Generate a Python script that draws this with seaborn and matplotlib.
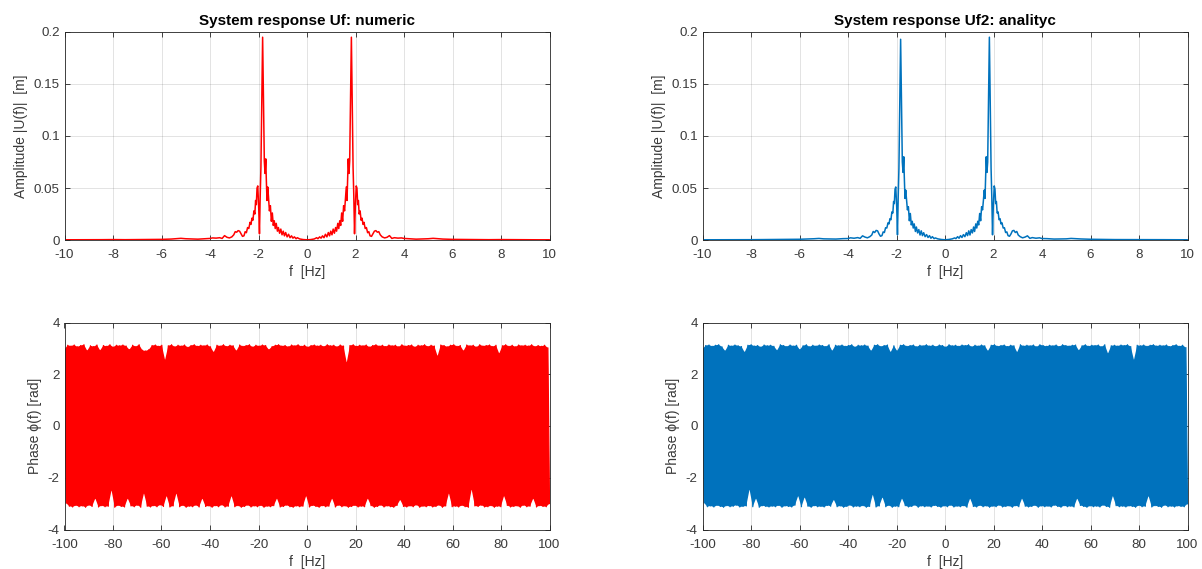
import numpy as np
import matplotlib
matplotlib.use("Agg")
import matplotlib.pyplot as plt
import seaborn as sns
from matplotlib.ticker import FormatStrFormatter

# ---------------- amplitude spectra |U(f)| ----------------
# positive-frequency sampling grid; the negative side uses the same grid mirrored
freq_pos = [
    0.15, 0.30, 0.40, 0.45, 0.52, 0.58, 0.64, 0.70, 0.76, 0.82,
    0.88, 0.93, 0.98, 1.03, 1.08, 1.13, 1.18, 1.22, 1.27, 1.31,
    1.35, 1.39, 1.43, 1.47, 1.51, 1.55, 1.59, 1.62, 1.65, 1.68,
    1.70, 1.73, 1.76, 1.79, 1.83, 1.87, 1.90, 1.93, 1.96, 1.99,
    2.03, 2.06, 2.09, 2.12, 2.15, 2.19, 2.23, 2.27, 2.31, 2.35,
    2.40, 2.45, 2.50, 2.55, 2.60, 2.66, 2.72, 2.78, 2.84, 2.90,
    2.96, 3.02, 3.10, 3.20, 3.30, 3.40, 3.50, 3.60, 3.75, 3.90,
    4.00, 4.20, 4.50, 4.80, 5.00, 5.20, 5.40, 5.60, 6.00, 6.50,
    7.00, 7.50, 8.00, 8.50, 9.00, 9.50, 10.0,
]

# numeric solution: values for f < 0 (ascending f), at f = 0, and for f > 0
amp_numeric_neg = [
    0.0002, 0.0002, 0.0003, 0.0003, 0.0004, 0.0003, 0.0004,
    0.0005, 0.0006, 0.0009, 0.0013, 0.0016, 0.0012, 0.0010, 0.0008, 0.0012, 0.0015,
    0.0020, 0.0018, 0.0022, 0.0015, 0.0042, 0.0026, 0.0020, 0.0030, 0.0050, 0.0080,
    0.0075, 0.0090, 0.0085, 0.0060, 0.0035, 0.0040, 0.0080, 0.0070, 0.0120, 0.0110,
    0.0170, 0.0150, 0.0210, 0.0190, 0.0280, 0.0250, 0.0380, 0.0340, 0.0500, 0.0520,
    0.0300, 0.0060, 0.0420, 0.0700, 0.1250, 0.1950, 0.1250, 0.0760, 0.0640, 0.0780,
    0.0600, 0.0380, 0.0510, 0.0420, 0.0280, 0.0330, 0.0180, 0.0260, 0.0140, 0.0185,
    0.0110, 0.0160, 0.0085, 0.0120, 0.0065, 0.0105, 0.0050, 0.0085, 0.0040, 0.0072,
    0.0030, 0.0055, 0.0022, 0.0040, 0.0018, 0.0030, 0.0012, 0.0022, 0.0010, 0.0004,
]
amp_numeric_zero = 0.0002
amp_numeric_pos = [
    0.0004, 0.0010, 0.0022, 0.0012, 0.0030, 0.0018, 0.0040, 0.0022, 0.0055, 0.0030,
    0.0072, 0.0040, 0.0085, 0.0050, 0.0105, 0.0065, 0.0120, 0.0085, 0.0160, 0.0110,
    0.0185, 0.0140, 0.0260, 0.0180, 0.0330, 0.0280, 0.0420, 0.0510, 0.0380, 0.0600,
    0.0780, 0.0640, 0.0760, 0.1250, 0.1950, 0.1250, 0.0700, 0.0420, 0.0060, 0.0300,
    0.0520, 0.0500, 0.0340, 0.0380, 0.0250, 0.0280, 0.0190, 0.0210, 0.0150, 0.0170,
    0.0110, 0.0120, 0.0070, 0.0080, 0.0040, 0.0035, 0.0060, 0.0085, 0.0090, 0.0075,
    0.0080, 0.0050, 0.0030, 0.0020, 0.0026, 0.0042, 0.0015, 0.0022, 0.0018, 0.0020,
    0.0015, 0.0012, 0.0008, 0.0010, 0.0012, 0.0016, 0.0013, 0.0009, 0.0006, 0.0005,
    0.0004, 0.0003, 0.0004, 0.0003, 0.0003, 0.0002, 0.0002,
]

# analytic solution
amp_analytic_neg = [
    0.0002, 0.0002, 0.0003, 0.0003, 0.0003, 0.0004, 0.0004,
    0.0005, 0.0007, 0.0010, 0.0012, 0.0015, 0.0011, 0.0010, 0.0009, 0.0013, 0.0014,
    0.0021, 0.0017, 0.0023, 0.0016, 0.0040, 0.0028, 0.0021, 0.0032, 0.0048, 0.0082,
    0.0072, 0.0092, 0.0088, 0.0058, 0.0036, 0.0042, 0.0078, 0.0072, 0.0118, 0.0115,
    0.0165, 0.0155, 0.0205, 0.0195, 0.0270, 0.0260, 0.0370, 0.0350, 0.0490, 0.0510,
    0.0310, 0.0050, 0.0410, 0.0690, 0.1230, 0.1930, 0.1270, 0.0750, 0.0650, 0.0800,
    0.0620, 0.0400, 0.0480, 0.0400, 0.0290, 0.0320, 0.0185, 0.0255, 0.0145, 0.0180,
    0.0115, 0.0155, 0.0082, 0.0125, 0.0068, 0.0100, 0.0048, 0.0088, 0.0042, 0.0070,
    0.0032, 0.0052, 0.0024, 0.0042, 0.0017, 0.0032, 0.0013, 0.0020, 0.0011, 0.0005,
]
amp_analytic_zero = 0.0002
amp_analytic_pos = [
    0.0005, 0.0011, 0.0020, 0.0013, 0.0032, 0.0017, 0.0042, 0.0024, 0.0052, 0.0032,
    0.0070, 0.0042, 0.0088, 0.0048, 0.0100, 0.0068, 0.0125, 0.0082, 0.0155, 0.0115,
    0.0180, 0.0145, 0.0255, 0.0185, 0.0320, 0.0290, 0.0400, 0.0480, 0.0400, 0.0620,
    0.0800, 0.0650, 0.0750, 0.1270, 0.1950, 0.1230, 0.0690, 0.0410, 0.0050, 0.0310,
    0.0520, 0.0490, 0.0350, 0.0370, 0.0260, 0.0270, 0.0195, 0.0205, 0.0155, 0.0165,
    0.0115, 0.0118, 0.0072, 0.0078, 0.0042, 0.0036, 0.0058, 0.0088, 0.0092, 0.0072,
    0.0082, 0.0048, 0.0032, 0.0021, 0.0028, 0.0040, 0.0016, 0.0023, 0.0017, 0.0021,
    0.0014, 0.0013, 0.0009, 0.0010, 0.0011, 0.0015, 0.0012, 0.0010, 0.0007, 0.0005,
    0.0004, 0.0004, 0.0003, 0.0003, 0.0003, 0.0002, 0.0002,
]

# ---------------- phase spectra phi(f): successive positive / negative extremes ----------------
phase_numeric_hi = [
    2.96, 3.12, 3.09, 3.13, 3.06, 3.11, 3.14, 2.91, 3.10, 3.07,
    3.13, 2.92, 3.11, 3.08, 3.14, 3.05, 3.12, 3.10, 3.13, 3.09,
    2.95, 3.12, 3.07, 3.14, 2.93, 2.90, 2.95, 3.11, 3.13, 3.08,
    3.12, 2.55, 3.10, 3.14, 3.06, 3.12, 3.09, 3.13, 3.04, 3.11,
    3.14, 3.08, 3.12, 3.10, 3.13, 3.06, 2.85, 3.12, 3.09, 3.14,
    3.07, 3.12, 3.10, 2.90, 3.13, 3.08, 3.11, 3.14, 3.05, 3.12,
    3.09, 3.13, 3.11, 2.95, 3.07, 3.12, 3.14, 3.09, 3.11, 3.06,
    3.13, 3.10, 3.14, 3.08, 3.12, 3.05, 3.11, 3.13, 3.09, 3.12,
    3.07, 3.14, 3.10, 3.12, 3.06, 3.13, 3.09, 2.45, 3.11, 3.14,
    3.08, 3.12, 3.10, 3.13, 3.05, 3.11, 3.14, 3.09, 3.12, 3.07,
    3.13, 3.10, 3.12, 3.06, 3.14, 3.09, 3.11, 3.13, 3.05, 3.12,
    3.10, 3.14, 3.07, 3.12, 3.09, 2.70, 3.13, 3.11, 3.06, 3.12,
    3.14, 3.08, 3.11, 2.90, 3.13, 3.10, 3.12, 3.05, 3.14, 3.09,
    3.11, 3.13, 3.07, 3.12, 2.80, 3.10, 3.14, 3.08, 3.12, 3.06,
    3.13, 3.10, 3.12, 3.09, 3.14, 3.07, 3.11, 3.08, 3.12, 3.02,
]
phase_numeric_lo = [
    -2.98, -3.10, -3.13, -3.07, -3.12, -3.09, -3.14, -3.06, -3.11, -2.80,
    -3.13, -3.08, -3.12, -3.10, -2.48, -3.14, -3.07, -3.11, -3.13, -2.80,
    -3.09, -3.12, -3.06, -3.14, -2.60, -3.10, -3.13, -3.08, -3.12, -3.05,
    -3.11, -2.70, -3.13, -3.09, -2.60, -3.12, -3.07, -3.14, -3.10, -3.12,
    -3.06, -3.13, -2.80, -3.11, -3.09, -3.14, -3.08, -3.12, -3.05, -3.13,
    -3.10, -2.70, -3.12, -3.08, -3.14, -3.11, -3.06, -3.13, -3.09, -3.12,
    -3.07, -3.14, -3.10, -3.12, -3.08, -2.80, -3.13, -3.11, -3.06, -3.12,
    -3.14, -3.09, -3.12, -3.10, -2.70, -3.13, -3.07, -3.11, -3.14, -3.08,
    -3.12, -3.10, -2.80, -3.13, -3.06, -3.12, -3.09, -3.14, -3.11, -3.07,
    -3.13, -3.10, -3.12, -2.80, -3.08, -3.14, -3.11, -3.06, -3.13, -3.09,
    -3.12, -3.14, -3.07, -2.85, -3.11, -3.13, -3.09, -3.12, -3.05, -3.14,
    -3.10, -3.12, -3.08, -3.13, -3.11, -3.06, -3.14, -3.09, -2.60, -3.12,
    -3.10, -3.13, -3.07, -3.12, -3.14, -2.45, -3.09, -3.11, -3.06, -3.13,
    -3.12, -3.08, -3.14, -3.10, -3.12, -2.70, -3.07, -3.13, -3.11, -3.09,
    -3.14, -3.06, -3.12, -3.10, -2.80, -3.13, -3.08, -3.11, -3.12, -3.00,
]
phase_analytic_hi = [
    2.97, 3.11, 3.13, 3.08, 3.12, 3.14, 3.06, 2.90, 3.12, 3.09,
    3.13, 3.10, 3.07, 2.85, 3.12, 3.14, 3.09, 3.11, 3.05, 3.13,
    3.10, 3.12, 3.08, 2.92, 3.14, 3.11, 3.07, 3.13, 3.09, 3.12,
    2.95, 3.10, 3.14, 3.06, 3.12, 3.09, 3.13, 3.11, 3.07, 3.14,
    2.90, 3.12, 3.10, 3.13, 3.08, 3.11, 3.14, 3.05, 3.12, 3.10,
    3.13, 3.09, 2.90, 3.12, 3.14, 3.07, 3.11, 3.13, 2.85, 3.10,
    2.90, 3.12, 3.14, 3.08, 3.11, 3.13, 3.06, 3.12, 3.10, 3.14,
    3.09, 3.12, 3.07, 3.13, 3.11, 3.05, 3.14, 3.10, 3.12, 3.08,
    3.13, 3.11, 3.14, 3.06, 3.12, 3.09, 3.13, 3.10, 2.90, 3.12,
    3.14, 3.08, 3.11, 3.13, 3.07, 3.12, 3.10, 2.85, 3.14, 3.09,
    3.12, 3.10, 3.13, 3.06, 3.14, 3.11, 3.08, 3.12, 3.10, 3.13,
    3.07, 3.14, 3.11, 3.09, 3.12, 3.13, 2.92, 3.10, 3.14, 3.08,
    3.12, 3.11, 3.13, 3.06, 3.14, 2.80, 3.10, 3.12, 3.09, 3.13,
    3.11, 3.14, 3.07, 2.55, 3.12, 3.10, 3.13, 3.08, 3.12, 3.14,
    3.09, 3.12, 3.10, 3.13, 3.07, 3.11, 3.14, 3.08, 3.12, 3.03,
]
phase_analytic_lo = [
    -2.97, -3.12, -3.09, -3.13, -3.07, -3.11, -3.14, -3.08, -3.12, -3.10,
    -3.06, -3.13, -3.11, -3.09, -2.45, -3.12, -2.80, -3.14, -3.08, -3.11,
    -3.13, -3.10, -3.12, -3.07, -3.14, -3.09, -3.11, -3.13, -3.06, -2.70,
    -3.12, -2.75, -3.10, -3.14, -3.08, -3.12, -3.11, -3.13, -3.07, -3.10,
    -2.85, -3.12, -3.09, -3.14, -3.11, -3.06, -3.13, -3.10, -3.12, -3.08,
    -3.14, -3.11, -2.65, -3.13, -3.09, -2.75, -3.12, -3.07, -3.14, -3.10,
    -3.12, -2.80, -3.08, -3.13, -3.11, -3.06, -3.14, -3.09, -3.12, -3.10,
    -3.13, -3.07, -3.11, -3.14, -3.09, -3.12, -3.06, -3.13, -3.10, -3.12,
    -3.08, -3.14, -2.80, -3.11, -3.13, -3.07, -3.12, -3.09, -3.14, -3.10,
    -3.12, -3.06, -3.13, -3.11, -3.09, -3.14, -3.08, -3.12, -2.80, -3.10,
    -3.13, -3.11, -3.07, -3.14, -3.09, -3.12, -3.10, -3.13, -3.06, -3.11,
    -3.14, -3.08, -3.12, -3.10, -3.13, -2.80, -3.07, -3.11, -3.14, -3.09,
    -3.12, -3.10, -3.13, -3.06, -3.11, -3.14, -2.70, -3.08, -3.12, -3.10,
    -3.13, -3.09, -3.11, -3.14, -3.07, -3.12, -3.10, -2.70, -3.13, -3.08,
    -3.11, -3.14, -3.06, -3.12, -3.10, -3.13, -3.09, -3.11, -3.12, -3.01,
]

amp_xticks = [-10, -8, -6, -4, -2, 0, 2, 4, 6, 8, 10]
amp_yticks = [0, 0.05, 0.1, 0.15, 0.2]
phase_xticks = [-100, -80, -60, -40, -20, 0, 20, 40, 60, 80, 100]
phase_yticks = [-4, -2, 0, 2, 4]

titles = ["System response Uf: numeric", "System response Uf2: analityc"]
amp_label = "Amplitude |U(f)|  [m]"
phase_label = "Phase ϕ(f) [rad]"
freq_label = "f  [Hz]"

RED = "#FF0000"
BLUE = "#0072BD"
AX_COLOR = "#262626"
LABEL_COLOR = "#3a3a3a"


def full_spectrum(neg, zero, pos):
    f = np.r_[-np.asarray(freq_pos)[::-1], 0.0, freq_pos]
    a = np.r_[neg, zero, pos]
    return f, a


sns.set_theme(style="white")
plt.rcParams["font.family"] = ["Liberation Sans", "DejaVu Sans"]
plt.rcParams["axes.unicode_minus"] = False

fig = plt.figure(figsize=(12.02, 5.69), dpi=100)

ax_w = 485 / 1202
cols_x = [64.5 / 1202, 702.5 / 1202]
top_y, top_h = 1 - 240 / 569, 208 / 569
bot_y, bot_h = 1 - 529.5 / 569, 207 / 569


def style_axes(ax, xlim, xticks, ylim, yticks, ylabel):
    ax.set_xlim(*xlim)
    ax.set_ylim(*ylim)
    ax.set_xticks(xticks)
    ax.set_yticks(yticks)
    ax.yaxis.set_major_formatter(FormatStrFormatter("%g"))
    ax.xaxis.set_major_formatter(FormatStrFormatter("%g"))
    ax.set_axisbelow(True)
    ax.grid(True, color=AX_COLOR, alpha=0.15, linewidth=0.6)
    for sp in ax.spines.values():
        sp.set_color(AX_COLOR)
        sp.set_linewidth(0.6)
        sp.set_visible(True)
    ax.tick_params(direction="in", length=3.5, width=0.6, color=AX_COLOR,
                   labelcolor=LABEL_COLOR, labelsize=9.6, top=True, right=True,
                   bottom=True, left=True)
    ax.tick_params(axis="x", pad=6.5)
    ax.tick_params(axis="y", pad=3.5)
    ax.set_xlabel(freq_label, fontsize=10, color=LABEL_COLOR, labelpad=3)
    ax.set_ylabel(ylabel, fontsize=10, color=LABEL_COLOR, labelpad=4)


f_phase = np.linspace(-100, 100, len(phase_numeric_hi) * 2)
f_hi, f_lo = f_phase[0::2], f_phase[1::2]

series = [
    (full_spectrum(amp_numeric_neg, amp_numeric_zero, amp_numeric_pos),
     phase_numeric_hi, phase_numeric_lo, RED),
    (full_spectrum(amp_analytic_neg, amp_analytic_zero, amp_analytic_pos),
     phase_analytic_hi, phase_analytic_lo, BLUE),
]

for col, ((f_amp, amp), hi, lo, color) in enumerate(series):
    ax_a = fig.add_axes([cols_x[col], top_y, ax_w, top_h])
    sns.lineplot(x=f_amp, y=amp, ax=ax_a, color=color, linewidth=1.1,
                 estimator=None, sort=False)
    style_axes(ax_a, (-10, 10), amp_xticks, (0, 0.2), amp_yticks, amp_label)
    ax_a.set_title(titles[col], fontsize=11, fontweight="bold", color="black", pad=5)

    ax_p = fig.add_axes([cols_x[col], bot_y, ax_w, bot_h])
    # band between successive maxima and minima, then the wrapped phase trace itself
    ax_p.fill(np.r_[f_hi, f_lo[::-1]], np.r_[hi, np.asarray(lo)[::-1]],
              color=color, linewidth=0)
    zigzag = np.empty(len(f_phase))
    zigzag[0::2] = hi
    zigzag[1::2] = lo
    sns.lineplot(x=f_phase, y=zigzag, ax=ax_p, color=color, linewidth=0.9,
                 estimator=None, sort=False)
    style_axes(ax_p, (-100, 100), phase_xticks, (-4, 4), phase_yticks, phase_label)

fig.savefig("out.png", dpi=100, facecolor="white")
